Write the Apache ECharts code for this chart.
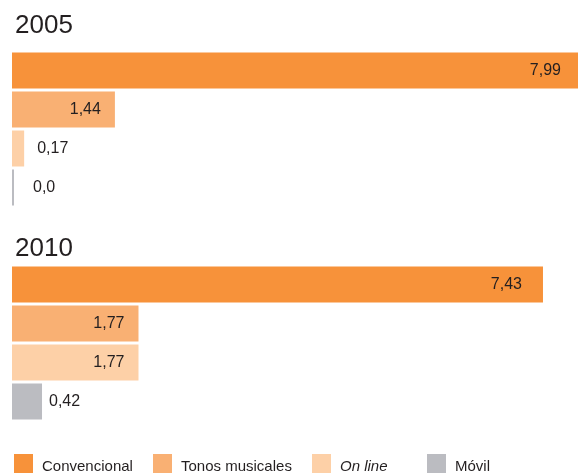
<!DOCTYPE html>
<html><head><meta charset="utf-8">
<script src="https://cdn.jsdelivr.net/npm/echarts@6/dist/echarts.min.js"></script>
<style>html,body{margin:0;padding:0;background:#fff}#c{width:578px;height:473px}</style>
</head><body><div id="c"></div>
<script>
const categories = ['Convencional', 'Tonos musicales', 'On line', 'Móvil'];
const years = ['2005', '2010'];
const values2005 = [7.99, 1.44, 0.17, 0.0];
const values2010 = [7.43, 1.77, 1.77, 0.42];
const labels2005 = ['7,99', '1,44', '0,17', '0,0'];
const labels2010 = ['7,43', '1,77', '1,77', '0,42'];
const colors = ['#F7923A', '#F9B073', '#FDD0A7', '#BBBCC1'];

const chart = echarts.init(document.getElementById('c'));
const FONT = 'Liberation Sans, Arial, sans-serif';
const TXT = '#231f20';
const AXIS_MAX = 7.92;

function labelFor(v, text) {
  const base = { show: true, formatter: text, color: TXT, fontSize: 16, fontFamily: FONT };
  if (v >= 1) return Object.assign(base, { position: 'insideRight', distance: v > AXIS_MAX ? 17 : (v > 5 ? 21 : 14) });
  return Object.assign(base, { position: 'right', distance: v === 0 ? 19 : (v < 0.3 ? 13 : 7) });
}

const groups = [values2005, values2010];
const groupLabels = [labels2005, labels2010];
const series = [];
groups.forEach((vals, g) => {
  categories.forEach((cat, i) => {
    const data = categories.map((c, j) => j === i ? { value: vals[j], label: labelFor(vals[j], groupLabels[g][j]) } : null);
    series.push({
      type: 'bar', name: cat, xAxisIndex: g, yAxisIndex: g, stack: 'g' + g,
      barWidth: 36, barMinHeight: 2, data: data, clip: true,
      itemStyle: { color: colors[i] }, silent: true, animation: false
    });
  });
});

const legendLefts = [14, 153, 312, 427];
const legends = categories.map((cat, i) => ({
  data: [cat], left: legendLefts[i], top: 454, padding: 0, icon: 'rect', itemWidth: 19, itemHeight: 19,
  selectedMode: false,
  formatter: '{a|{name}}',
  textStyle: {
    fontSize: 15, fontFamily: FONT, color: TXT,
    rich: { a: { fontSize: 15, fontFamily: FONT, color: TXT, fontStyle: cat === 'On line' ? 'italic' : 'normal', padding: [7, 0, 0, 4] } }
  }
}));

chart.setOption({
  animation: false,
  title: [
    { text: years[0], left: 15, top: 13, padding: 0, textStyle: { fontSize: 26, fontWeight: 'normal', color: TXT, fontFamily: FONT } },
    { text: years[1], left: 15, top: 236, padding: 0, textStyle: { fontSize: 26, fontWeight: 'normal', color: TXT, fontFamily: FONT } }
  ],
  legend: legends,
  grid: [
    { left: 12, right: 0, top: 51, height: 156 },
    { left: 12, right: 0, top: 265, height: 156 }
  ],
  xAxis: [
    { gridIndex: 0, type: 'value', min: 0, max: AXIS_MAX, show: false },
    { gridIndex: 1, type: 'value', min: 0, max: AXIS_MAX, show: false }
  ],
  yAxis: [
    { gridIndex: 0, type: 'category', data: categories, inverse: true, show: false },
    { gridIndex: 1, type: 'category', data: categories, inverse: true, show: false }
  ],
  series: series
});
</script></body></html>
